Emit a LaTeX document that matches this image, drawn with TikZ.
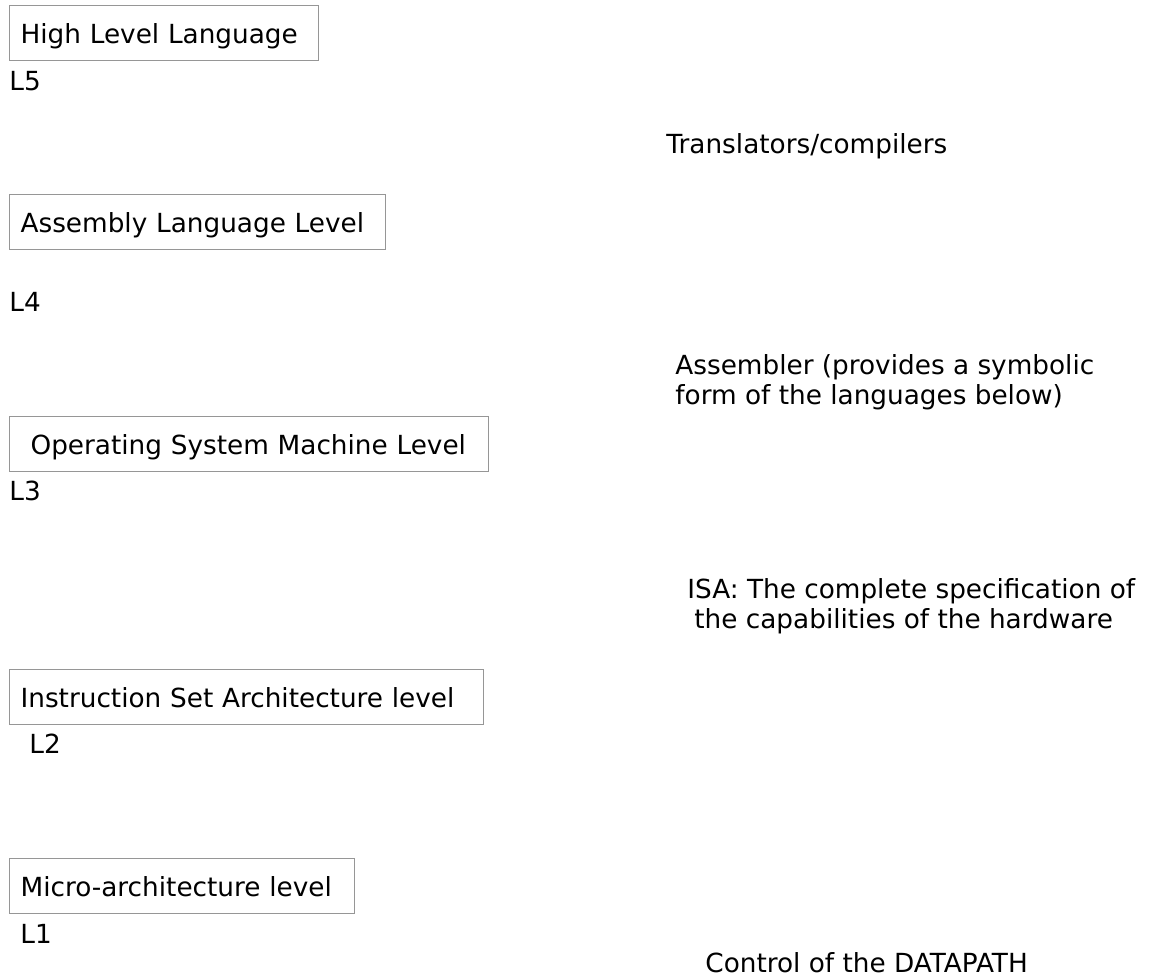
\documentclass[tikz,border=0pt]{standalone}
\usepackage{fontspec}
\setmainfont{DejaVu Sans}
\usepackage{tikz}
\usetikzlibrary{positioning}
\definecolor{boxline}{RGB}{150,150,150}

\begin{document}
\begin{tikzpicture}[x=0.5pt, y=-0.5pt,
  every node/.style={font=\fontsize{13.15pt}{15pt}\selectfont, inner sep=0pt},
  levelbox/.style={draw=boxline, line width=0.6pt, anchor=north west, minimum height=27.5pt, inner xsep=5.5pt, text height=13pt, text depth=3pt, align=left},
  lvltag/.style={anchor=base west},
  remark/.style={anchor=base west, align=left}]
\useasboundingbox (0,0) rectangle (1159,976);
% Level boxes
\node[levelbox, text width=143.5pt] (hll) at (9,5) {High Level Language};
\node[levelbox, text width=177pt] (asm) at (9,194) {Assembly Language Level};
\node[levelbox, inner xsep=10.5pt, text width=218.5pt] (osm) at (9,416) {Operating System Machine Level};
\node[levelbox, text width=226pt] (isa) at (9,669) {Instruction Set Architecture level};
\node[levelbox, text width=161.5pt] (micro) at (9,858) {Micro-architecture level};

% Level numbers
\node[lvltag] (l5) at (9,90) {L5};
\node[lvltag] (l4) at (9,311) {L4};
\node[lvltag] (l3) at (9,500) {L3};
\node[lvltag] (l2) at (29,753) {L2};
\node[lvltag] (l1) at (20,943) {L1};

% Remarks on the right (base = last line)
\node[remark] (trans) at (666,153) {Translators/compilers};
\node[remark] (assembler) at (675,404) {Assembler (provides a symbolic\\form of the languages below)};
\node[remark] (isaspec) at (687,628) {ISA: The complete specification of\\\hspace{3.5pt}the capabilities of the hardware};
\node[remark, text depth=0pt] (datapath) at (705,972) {Control of the DATAPATH};
\end{tikzpicture}
\end{document}
